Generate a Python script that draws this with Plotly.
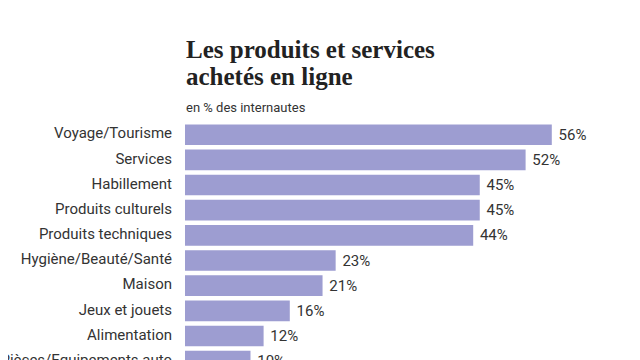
import plotly.graph_objects as go

categories = [
    "Voyage/Tourisme",
    "Services",
    "Habillement",
    "Produits culturels",
    "Produits techniques",
    "Hygiène/Beauté/Santé",
    "Maison",
    "Jeux et jouets",
    "Alimentation",
    "Pièces/Equipements auto",
]
values = [56, 52, 45, 45, 44, 23, 21, 16, 12, 10]

title_line1 = "Les produits et services"
title_line2 = "achetés en ligne"
subtitle = "en % des internautes"

BAR_COLOR = "#9d9dd1"
TEXT_COLOR = "#333333"
LABEL_FONT = "Roboto"

# layout geometry (page pixels of the reference, the page body adds an 8px offset)
OFF = 8
W, H = 640, 360
BAR_X0 = 185 - OFF          # pixel where bars start
PX_PER_PCT = 6.55
ROW0 = 134.7 - OFF          # centre of first row
ROW_STEP = 25.16
M_T = 95
plot_h = H - M_T

x_lo = -BAR_X0 / PX_PER_PCT
x_hi = (W - BAR_X0) / PX_PER_PCT
y_top = -(ROW0 - M_T) / ROW_STEP
y_bot = (H - ROW0) / ROW_STEP
LABEL_X = -13 / PX_PER_PCT


def py(p):
    """reference page pixel -> paper y"""
    return (H - (p - OFF)) / plot_h


def px(p):
    return (p - OFF) / W


fig = go.Figure()

fig.add_trace(go.Bar(
    x=values,
    y=categories,
    orientation="h",
    marker=dict(color=BAR_COLOR, line=dict(width=0)),
    width=0.82,
    texttemplate="\u00a0%{x}%",
    textposition="outside",
    outsidetextfont=dict(family=LABEL_FONT, size=15, color=TEXT_COLOR),
    cliponaxis=False,
    hoverinfo="skip",
))

fig.add_trace(go.Scatter(
    x=[LABEL_X] * len(categories),
    y=categories,
    mode="text",
    text=categories,
    textposition="middle left",
    textfont=dict(family=LABEL_FONT, size=15, color=TEXT_COLOR),
    cliponaxis=False,
    hoverinfo="skip",
))

fig.update_layout(
    width=W,
    height=H,
    margin=dict(l=0, r=0, t=M_T, b=0, pad=0),
    paper_bgcolor="white",
    plot_bgcolor="white",
    showlegend=False,
    xaxis=dict(range=[x_lo, x_hi], visible=False, fixedrange=True),
    yaxis=dict(
        type="category",
        categoryorder="array",
        categoryarray=categories,
        range=[y_bot, y_top],
        visible=False,
        fixedrange=True,
    ),
    annotations=[
        dict(
            text=title_line1, xref="paper", yref="paper", x=px(184), y=py(34.5),
            xanchor="left", yanchor="top", align="left", showarrow=False,
            font=dict(family="Liberation Serif", size=25, color="#222222", weight="bold"),
        ),
        dict(
            text=title_line2, xref="paper", yref="paper", x=px(184), y=py(61),
            xanchor="left", yanchor="top", align="left", showarrow=False,
            font=dict(family="Liberation Serif", size=25, color="#222222", weight="bold"),
        ),
        dict(
            text=subtitle, xref="paper", yref="paper", x=px(184), y=py(107),
            xanchor="left", yanchor="middle", align="left", showarrow=False,
            font=dict(family=LABEL_FONT, size=13, color=TEXT_COLOR),
        ),
    ],
)

fig.write_html("out.html")
